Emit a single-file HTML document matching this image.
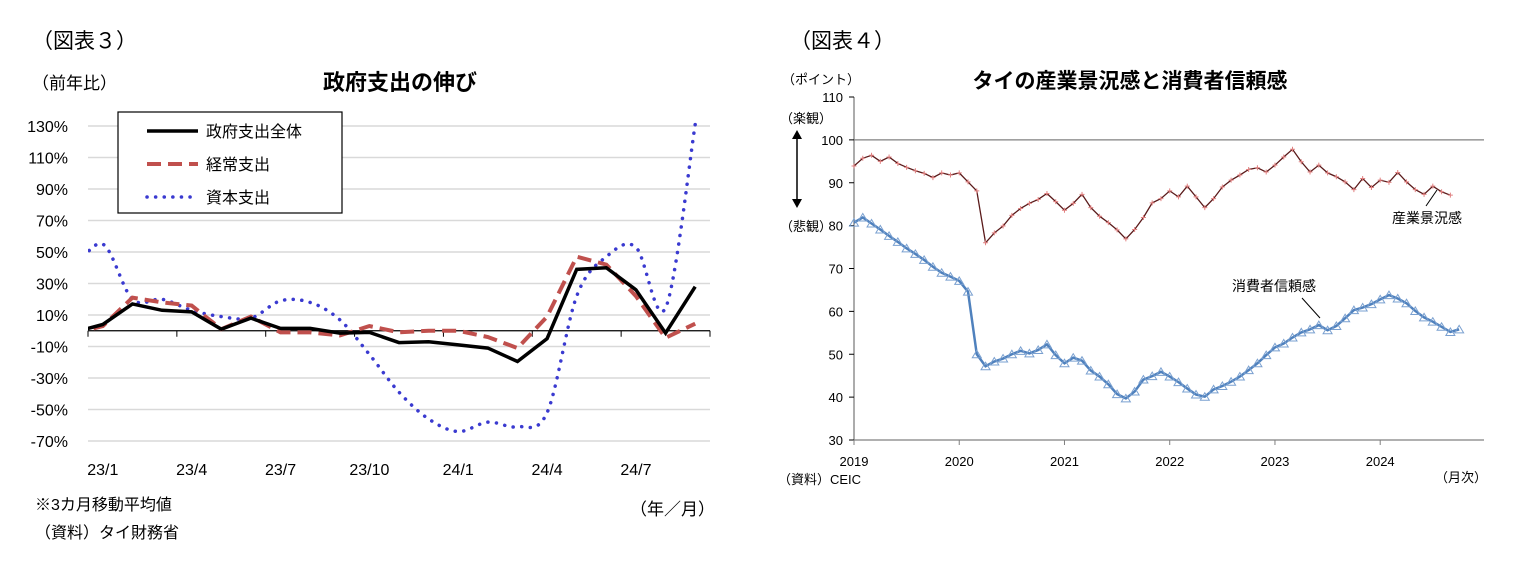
<!DOCTYPE html>
<html><head><meta charset="utf-8">
<style>
body{margin:0;background:#fff;width:1513px;height:574px;overflow:hidden;font-family:"Liberation Sans","Noto Sans CJK JP",sans-serif;}
svg text{font-family:"Liberation Sans","Noto Sans CJK JP",sans-serif;}
</style></head><body>
<svg id="s" width="1513" height="574" xmlns="http://www.w3.org/2000/svg">
<g id="left">
<text x="32" y="48" font-size="21" font-family="Liberation Serif,Noto Serif CJK SC,serif">（図表３）</text>
<text x="32" y="89" font-size="17">（前年比）</text>
<text x="400" y="90" font-size="22" font-weight="bold" text-anchor="middle">政府支出の伸び</text>
<text x="35" y="510" font-size="16">※3カ月移動平均値</text>
<text x="35" y="538" font-size="16">（資料）タイ財務省</text>
<text x="630" y="515" font-size="17">（年／月）</text>
</g>
<g id="right">
<text x="790" y="48" font-size="21" font-family="Liberation Serif,Noto Serif CJK SC,serif">（図表４）</text>
<text x="1130" y="88" font-size="21" font-weight="bold" text-anchor="middle">タイの産業景況感と消費者信頼感</text>
<text x="782" y="84" font-size="13">（ポイント）</text>
<text x="780" y="123" font-size="13">（楽観）</text>
<text x="780" y="231" font-size="13">（悲観）</text>
<line x1="797" y1="134" x2="797" y2="204" stroke="#000" stroke-width="1.5"/>
<polygon points="797,130 792,139 802,139" fill="#000"/>
<polygon points="797,208 792,199 802,199" fill="#000"/>
<text x="778" y="484" font-size="13">（資料）CEIC</text>
<text x="1435" y="482" font-size="13">（月次）</text>
<text x="1392" y="223" font-size="14">産業景況感</text>
<line x1="1426" y1="206" x2="1437" y2="190" stroke="#000"/>
<text x="1232" y="291" font-size="14">消費者信頼感</text>
<line x1="1302" y1="298" x2="1320" y2="318" stroke="#000"/>
</g>
</svg>
<script>
// ---- Left chart data ----
const leftCategories = ["22/12","23/1","23/2","23/3","23/4","23/5","23/6","23/7","23/8","23/9","23/10","23/11","23/12","24/1","24/2","24/3","24/4","24/5","24/6","24/7","24/8","24/9"];
const totalSpending = [-1,4,17,13,12,1,8,1.5,1.5,-1.5,-1,-7.5,-7,-9,-11,-19.5,-5,39,40,26,-1.5,28];
const currentSpending = [-2,3,21,18,16,1,9,-1,-1,-3,3,-1,0,0,-4,-11,9,47,42,22,-4.5,4.5];
const capitalSpending = [38,55,20,20,13,9,8,19,18,7,-15,-39,-56,-64,-58,-61,-52,22,47,53,14.5,131];
const leftTicks = [130,110,90,70,50,30,10,-10,-30,-50,-70];
const leftXLabels = ["23/1","23/4","23/7","23/10","24/1","24/4","24/7"];
// ---- Right chart data ----
const yearLabels = ["2019","2020","2021","2022","2023","2024"];
const rightTicks = [30,40,50,60,70,80,90,100,110];
const businessSentiment = [93.9,95.7,96.4,95.0,96.0,94.5,93.6,92.8,92.2,91.2,92.3,91.8,92.3,90.2,88.1,76.0,78.3,79.9,82.4,84.0,85.2,86.1,87.5,85.6,83.6,85.2,87.3,84.2,82.2,80.7,79.0,76.9,79.1,81.9,85.3,86.3,88.1,86.7,89.2,86.7,84.2,86.3,89.0,90.6,91.8,93.1,93.5,92.5,94.1,96.0,97.8,94.9,92.5,94.1,92.3,91.4,90.2,88.4,91.0,88.9,90.6,90.1,92.4,90.2,88.4,87.3,89.2,87.9,87.1];
const consumerConfidence = [80.7,81.9,80.5,79.1,77.6,76.2,74.7,73.4,72.0,70.4,69.0,68.1,67.1,64.6,50.0,47.2,48.3,49.0,50.0,50.8,50.2,51.0,52.3,49.8,47.9,49.2,48.5,46.2,44.8,43.0,40.7,39.7,41.3,44.1,44.9,45.9,44.8,43.5,42.0,40.6,40.1,41.8,42.6,43.6,44.8,46.3,47.9,49.8,51.6,52.5,53.9,55.1,55.8,56.8,55.6,56.6,58.4,60.3,60.9,61.7,62.8,63.8,63.0,61.9,60.1,58.6,57.6,56.4,55.2,55.8];

const NS="http://www.w3.org/2000/svg";
const svg=document.getElementById('s');
function mk(tag,attrs,parent,text){const e=document.createElementNS(NS,tag);for(const k in attrs)e.setAttribute(k,attrs[k]);if(text!==undefined)e.textContent=text;(parent||svg).appendChild(e);return e;}

// Left axes
const L={x0:88,x1:710,yTop:126,yBot:441,vTop:130,vBot:-70};
const monthW=(L.x1-L.x0)/21;
function lx(i){return L.x0+(i-0.5)*monthW;}
function ly(v){return L.yTop+(L.vTop-v)*(L.yBot-L.yTop)/(L.vTop-L.vBot);}
const gL=document.getElementById('left');
leftTicks.forEach(t=>{
  const g=mk('line',{x1:L.x0,x2:L.x1,y1:ly(t),y2:ly(t),stroke:'#d9d9d9','stroke-width':1.5},gL);
  
  
  const lb=mk('text',{x:68,y:ly(t)+6,'font-size':16,'text-anchor':'end'},gL,t+'%');
  
  
});
const ax=mk('line',{x1:L.x0,x2:L.x1,y1:ly(0),y2:ly(0),stroke:'#000','stroke-width':1.2},gL);


for(let k=0;k<=7;k++){
  const x=L.x0+k*3*monthW;
  const tk=mk('line',{x1:x,x2:x,y1:ly(0),y2:ly(0)+6,stroke:'#000'},gL);
  
  
}
leftXLabels.forEach((s,k)=>{
  const idx=leftCategories.indexOf(s);
  const t=mk('text',{x:lx(idx),y:475,'font-size':16,'text-anchor':'middle'},gL,s);
  
  
});
mk('clipPath',{id:'lclip'},gL).appendChild(Object.assign(document.createElementNS(NS,'rect'),{}));
const cr=document.querySelector('#lclip rect');cr.setAttribute('x',L.x0);cr.setAttribute('y',100);cr.setAttribute('width',L.x1-L.x0);cr.setAttribute('height',360);
function pts(arr){return arr.map((v,i)=>[lx(i),ly(v)]);}
function smooth(p){let d='M'+p[0][0]+','+p[0][1];for(let i=0;i<p.length-1;i++){const p0=p[i-1]||p[i],p1=p[i],p2=p[i+1],p3=p[i+2]||p2;const c1=[p1[0]+(p2[0]-p0[0])/6,p1[1]+(p2[1]-p0[1])/6],c2=[p2[0]-(p3[0]-p1[0])/6,p2[1]-(p3[1]-p1[1])/6];d+=' C'+c1+' '+c2+' '+p2;}return d;}
const blue=mk('path',{d:smooth(pts(capitalSpending)),fill:'none',stroke:'#3a3ad0','stroke-width':3.5,'stroke-dasharray':'0.1 8.5','stroke-linecap':'round','clip-path':'url(#lclip)'},gL);


const red=mk('polyline',{points:pts(currentSpending).join(' '),fill:'none',stroke:'#c0504d','stroke-width':4,'stroke-dasharray':'14 7','clip-path':'url(#lclip)'},gL);


const blk=mk('polyline',{points:pts(totalSpending).join(' '),fill:'none',stroke:'#000','stroke-width':3.5,'clip-path':'url(#lclip)'},gL);


// legend
const lg=mk('g',{},gL);


mk('rect',{x:118,y:112,width:224,height:101,fill:'#fff',stroke:'#000','stroke-width':1.2},lg);
[['政府支出全体',{stroke:'#000','stroke-width':3.5}],['経常支出',{stroke:'#c0504d','stroke-width':4,'stroke-dasharray':'14 7'}],['資本支出',{stroke:'#3a3ad0','stroke-width':3.5,'stroke-dasharray':'0.1 8.5','stroke-linecap':'round'}]].forEach((e,k)=>{
  const y=131+k*33;
  const ln=mk('line',Object.assign({x1:147,x2:198,y1:y,y2:y},e[1]),lg);
  
  
  const t=mk('text',{x:206,y:y+6,'font-size':16},lg,e[0]);
  
  
});

// Right chart
const R={x0:854,x1:1484,y0:440,vMin:30,vMax:110,yTop:97};
const mW=8.77;
function rx(i){return R.x0+i*mW;}
function ry(v){return R.y0-(v-R.vMin)*(R.y0-R.yTop)/(R.vMax-R.vMin);}
const gR=document.getElementById('right');
const g100=mk('line',{x1:R.x0,x2:R.x1,y1:ry(100),y2:ry(100),stroke:'#808080','stroke-width':1.3},gR);


const ya=mk('line',{x1:R.x0,x2:R.x0,y1:ry(110),y2:R.y0,stroke:'#808080','stroke-width':1.3},gR);


const xa=mk('line',{x1:R.x0,x2:R.x1,y1:R.y0,y2:R.y0,stroke:'#808080','stroke-width':1.3},gR);


rightTicks.forEach(t=>{
  const tk=mk('line',{x1:R.x0-5,x2:R.x0,y1:ry(t),y2:ry(t),stroke:'#000'},gR);
  
  
  const lb=mk('text',{x:843,y:ry(t)+5,'font-size':13,'text-anchor':'end'},gR,t);
  
  
});
yearLabels.forEach((s,k)=>{
  const x=rx(k*12);
  const tk=mk('line',{x1:x,x2:x,y1:R.y0,y2:R.y0+5,stroke:'#808080'},gR);
  
  
  const t=mk('text',{x:x,y:466,'font-size':13,'text-anchor':'middle'},gR,s);
  
  
});
const bl=mk('polyline',{points:businessSentiment.map((v,i)=>rx(i)+','+ry(v)).join(' '),fill:'none',stroke:'#5a1a1a','stroke-width':1.3},gR);


businessSentiment.forEach((v,i)=>{
  const m=mk('path',{d:`M${rx(i)-2.5},${ry(v)}h5M${rx(i)},${ry(v)-2.5}v5`,stroke:'#e08080','stroke-width':1},gR);
  
  
});
const cl=mk('polyline',{points:consumerConfidence.map((v,i)=>rx(i)+','+ry(v)).join(' '),fill:'none',stroke:'#4f81bd','stroke-width':2.5},gR);


consumerConfidence.forEach((v,i)=>{
  const x=rx(i),y=ry(v);
  const m=mk('polygon',{points:`${x},${y-4} ${x-4.5},${y+3.5} ${x+4.5},${y+3.5}`,fill:'none',stroke:'#7aa0d0','stroke-width':1},gR);
  
  
});
</script>
</body></html>
